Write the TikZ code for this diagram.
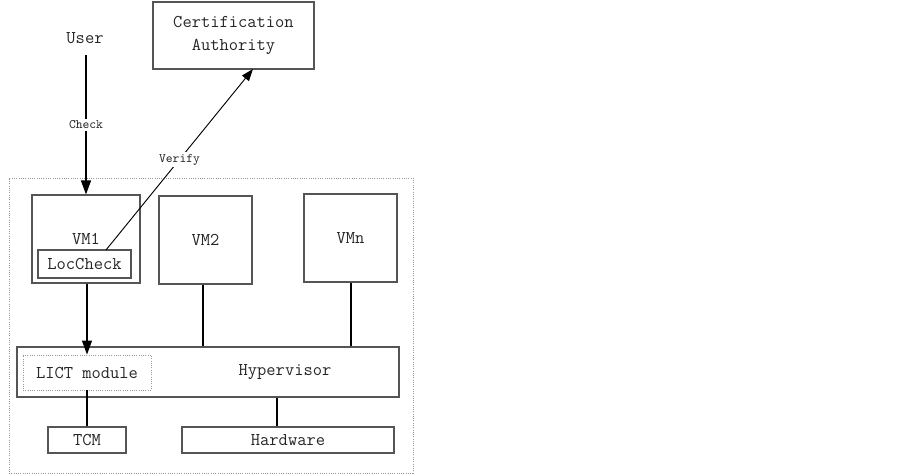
\documentclass[tikz,border=0pt]{standalone}
\usepackage{fontspec}
\usetikzlibrary{arrows.meta}
\definecolor{boxc}{HTML}{555555}
\definecolor{dotc}{HTML}{999999}
\tikzset{
  box/.style={draw=boxc, line width=0.8pt, inner sep=0pt},
  dotbox/.style={draw=dotc, densely dotted, line width=0.7pt, inner sep=0pt},
  txt/.style={font=\ttfamily\fontsize{13.5}{15}\selectfont, text=black!85, inner sep=1pt},
  lbl/.style={font=\ttfamily\fontsize{9.7}{11}\selectfont, fill=white, text=black!85, inner sep=1.5pt},
  arr/.style={draw=black, line width=0.9pt, -{Triangle[length=10.5pt,width=7.5pt]}},
  arrs/.style={draw=black, line width=0.7pt, -{Triangle[length=9pt,width=6.5pt]}},
  link/.style={draw=black, line width=0.9pt}
}
\begin{document}
\begin{tikzpicture}[x=0.75pt,y=-0.75pt]
\useasboundingbox (0,0) rectangle (903,475);
% outer frame
\node[dotbox, minimum width=303pt, minimum height=221.25pt] (outer) at (211,325.5) {};
% certification authority
\node[box, txt, minimum width=120.75pt, minimum height=50.25pt, align=center, font=\ttfamily\fontsize{13.5}{17}\selectfont] (ca) at (233.5,35.5) {Certification\\Authority};
% user
\node[txt] (user) at (85,38) {User};
% VMs
\node[box, minimum width=81pt, minimum height=66pt] (vm1) at (86,239) {};
\node[txt] (vm1t) at (86,239) {VM1};
\node[box, minimum width=69.75pt, minimum height=21pt, txt] (loc) at (84.5,264) {LocCheck};
\node[box, txt, minimum width=69.75pt, minimum height=66pt] (vm2) at (205.5,240) {VM2};
\node[box, txt, minimum width=69.75pt, minimum height=66pt] (vmn) at (350.5,238) {VMn};
% hypervisor
\node[box, minimum width=286.5pt, minimum height=37.5pt] (hyp) at (208,372) {};
\node[txt] (hypt) at (285,372) {Hypervisor};
\node[dotbox, txt, minimum width=96pt, minimum height=26.25pt] (lict) at (87,372.5) {LICT module};
% hardware
\node[box, txt, minimum width=58.5pt, minimum height=19.5pt] (tcm) at (87,440) {TCM};
\node[box, txt, minimum width=159pt, minimum height=19.5pt] (hw) at (288,440) {Hardware};
% connectors
\coordinate (us) at (86,55);
\draw[arr] (us) -- node[lbl, pos=0.5] (chk) {Check} (us |- vm1.north);
\coordinate (vs) at (106,250);
\coordinate (ve) at (253,69);
\draw[arrs] (vs) -- node[lbl, pos=0.5] (ver) {Verify} (ve);
\draw[arr] (vm1.south -| 87,0) -- (lict.north -| 87,0);
\draw[link] (vm2.south -| 203,0) -- (hyp.north -| 203,0);
\draw[link] (vmn.south -| 351,0) -- (hyp.north -| 351,0);
\draw[link] (lict.south) -- (tcm.north);
\draw[link] (hyp.south -| 277,0) -- (hw.north -| 277,0);
\end{tikzpicture}
\end{document}
